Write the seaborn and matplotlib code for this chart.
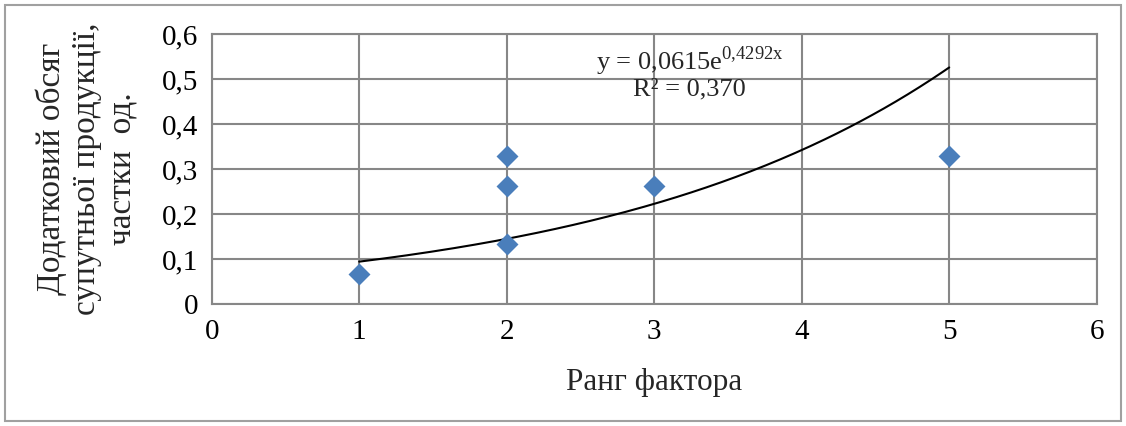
import numpy as np
import pandas as pd
import matplotlib
matplotlib.use("Agg")
import matplotlib.pyplot as plt
import matplotlib.patches as patches
import seaborn as sns

# ===============================
# Data
# ===============================

rank = [1, 2, 2, 2, 3, 5]
volume = [0.066, 0.33, 0.263, 0.133, 0.263, 0.33]

x_ticks = [0, 1, 2, 3, 4, 5, 6]
x_tick_labels = ["0", "1", "2", "3", "4", "5", "6"]
y_ticks = [0, 0.1, 0.2, 0.3, 0.4, 0.5, 0.6]
y_tick_labels = ["0", "0,1", "0,2", "0,3", "0,4", "0,5", "0,6"]

# exponential trend line shown on the chart
trend_a = 0.0615
trend_b = 0.4292
trend_r2 = "0,370"

df = pd.DataFrame({"rank": rank, "volume": volume})

# ===============================
# Style
# ===============================

sns.set_style("white")
plt.rcParams["font.family"] = ["Liberation Serif", "DejaVu Serif"]
plt.rcParams["mathtext.fontset"] = "custom"
plt.rcParams["mathtext.rm"] = "Liberation Serif"

grid_color = "#878787"
marker_color = "#4A7EBB"

fig = plt.figure(figsize=(11.26, 4.26), dpi=100)
ax = fig.add_axes([0.188, 0.286, 0.786, 0.634])

# -----------------------------
# Points and trend line
# -----------------------------

sns.scatterplot(
    data=df,
    x="rank",
    y="volume",
    marker="D",
    s=125,
    color=marker_color,
    linewidth=0,
    zorder=4,
    ax=ax
)

trend_x = np.linspace(min(rank), max(rank), 200)
trend_y = trend_a * np.exp(trend_b * trend_x)

sns.lineplot(
    x=trend_x,
    y=trend_y,
    color="black",
    linewidth=1.5,
    zorder=3,
    ax=ax
)

# -----------------------------
# Axes
# -----------------------------

ax.set_xlim(0, 6)
ax.set_ylim(0, 0.6)
ax.set_xticks(x_ticks)
ax.set_xticklabels(x_tick_labels)
ax.set_yticks(y_ticks)
ax.set_yticklabels(y_tick_labels)

ax.grid(True, color=grid_color, linewidth=1.5)
ax.set_axisbelow(True)
for side in ["left", "right", "top", "bottom"]:
    ax.spines[side].set_color(grid_color)
    ax.spines[side].set_linewidth(1.5)

ax.tick_params(
    axis="both",
    direction="inout",
    length=9,
    width=1.5,
    color=grid_color,
    labelsize=21,
    labelcolor="black"
)
ax.tick_params(axis="y", pad=5)
ax.tick_params(axis="x", pad=6)

ax.set_xlabel("Ранг фактора", fontsize=22.5, labelpad=17)
ax.set_ylabel(
    "Додатковий обсяг\nсупутньої продукції,\nчастки  од.",
    fontsize=24,
    linespacing=1.2,
    labelpad=18
)

ax.text(
    3.24, 0.54,
    r"y = 0,0615e$^{\mathregular{0{,}4292x}}$",
    fontsize=19,
    ha="center",
    va="center"
)
ax.text(
    3.24, 0.478,
    "R² = " + trend_r2,
    fontsize=19,
    ha="center",
    va="center"
)

# -----------------------------
# Outer border
# -----------------------------

border = patches.Rectangle(
    (5 / 1126, 5 / 426),
    1116 / 1126,
    416 / 426,
    transform=fig.transFigure,
    fill=False,
    edgecolor="#A0A0A0",
    linewidth=1.5
)
fig.patches.append(border)

plt.savefig("out.png", dpi=100)
